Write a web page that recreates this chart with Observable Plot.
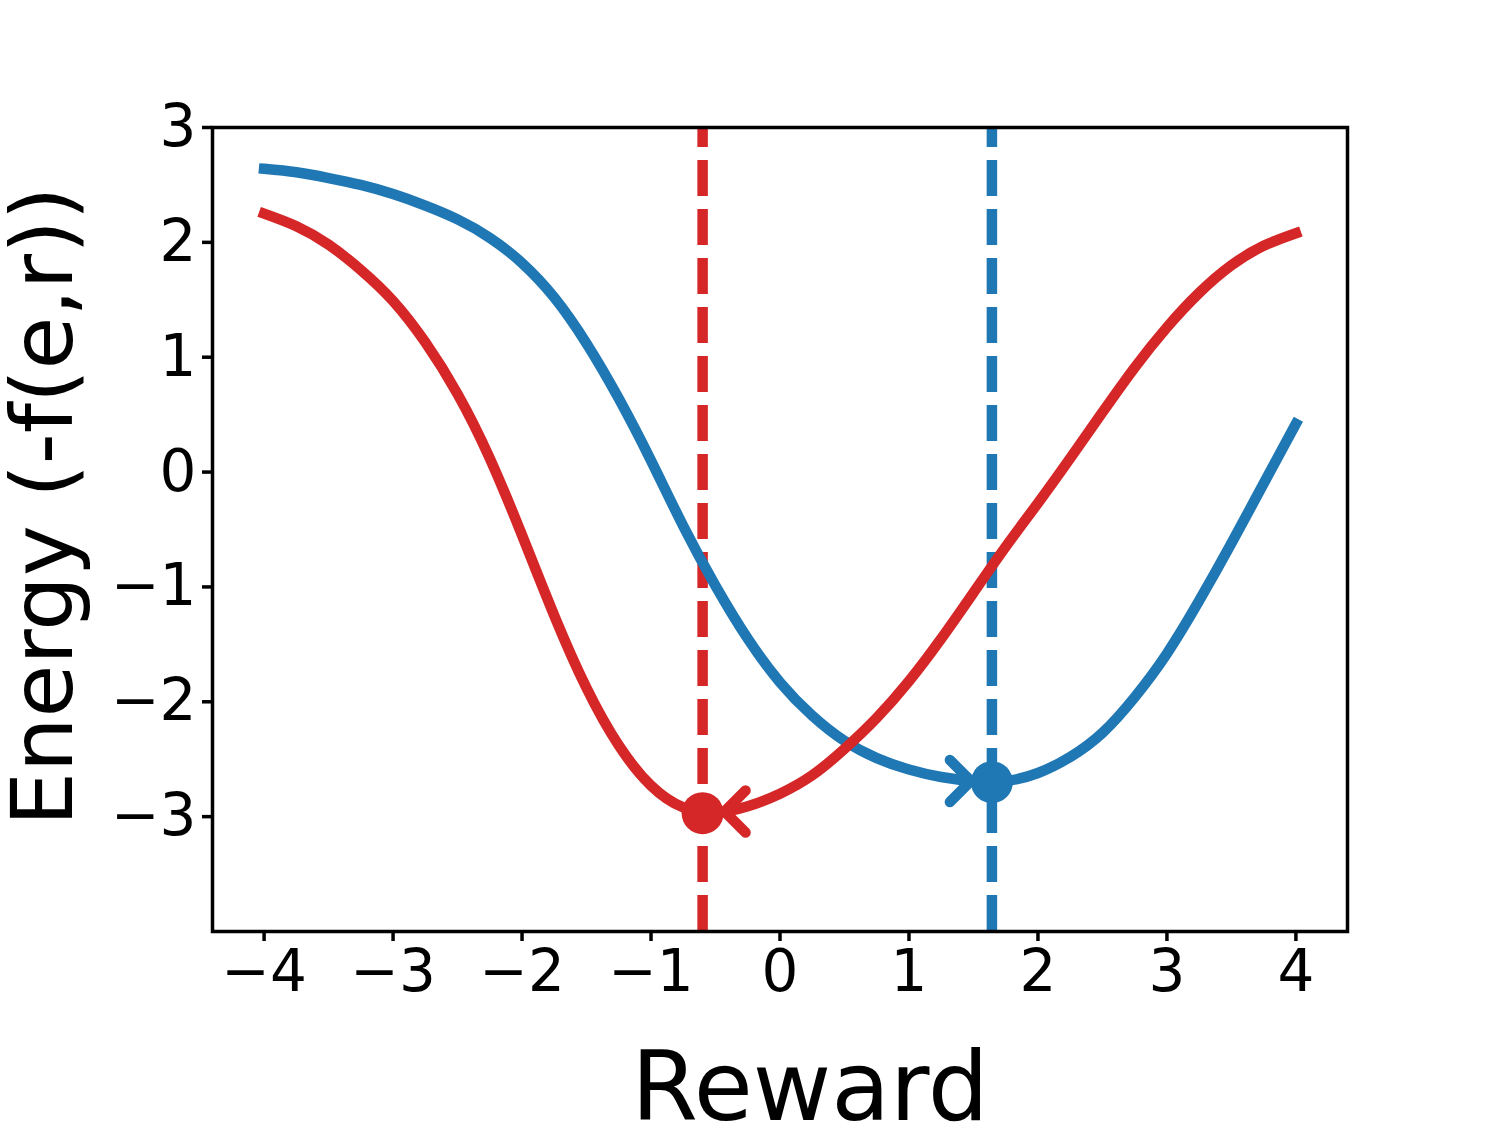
<!DOCTYPE html>
<html>
<head>
<meta charset="utf-8">
<script src="https://cdn.jsdelivr.net/npm/d3@7"></script>
<script src="https://cdn.jsdelivr.net/npm/@observablehq/plot@0.6"></script>
<style>
  html, body { margin: 0; padding: 0; background: white; }
  #chart svg { display: block; }
</style>
</head>
<body>
<div id="chart"></div>
<script>
// ---- data ----
const reward = [-4, -3.75, -3.5, -3.25, -3, -2.75, -2.5, -2.25, -2, -1.75, -1.5, -1.25, -1, -0.75, -0.5, -0.25,
  0, 0.25, 0.5, 0.75, 1, 1.25, 1.5, 1.75, 2, 2.25, 2.5, 2.75, 3, 3.25, 3.5, 3.75, 4];
const energyBlue = [2.64, 2.61, 2.56, 2.50, 2.42, 2.32, 2.20, 2.04, 1.82, 1.52, 1.12, 0.64, 0.10, -0.47, -0.99, -1.45,
  -1.83, -2.12, -2.34, -2.49, -2.59, -2.655, -2.69, -2.69, -2.62, -2.48, -2.27, -1.96, -1.58, -1.12, -0.62, -0.10, 0.42];
const energyRed = [2.25, 2.14, 1.98, 1.76, 1.49, 1.13, 0.68, 0.12, -0.55, -1.25, -1.88, -2.38, -2.73, -2.92, -2.965, -2.91,
  -2.80, -2.64, -2.41, -2.14, -1.82, -1.45, -1.05, -0.65, -0.27, 0.12, 0.52, 0.91, 1.26, 1.56, 1.80, 1.97, 2.08];
const seriesNames = ["blue", "red"];
const minReward = [1.643, -0.6];      // argmin positions (dashed lines + dots)
const minEnergy = [-2.70, -2.97];
const arrowTipReward = [1.48, -0.43]; // arrow heads pointing at the minima
const arrowTipEnergy = [-2.69, -2.955];
const xTicks = [-4, -3, -2, -1, 0, 1, 2, 3, 4];
const yTicks = [-3, -2, -1, 0, 1, 2, 3];
const xDomain = [-4.4, 4.4];
const yDomain = [-4, 3];
const xLabel = "Reward";
const yLabel = "Energy (-f(e,r))";

const colors = {blue: "#1f77b4", red: "#d62728"};
const lw = 10.5;

const curves = [];
reward.forEach((r, i) => {
  curves.push({series: "blue", r, e: energyBlue[i]});
  curves.push({series: "red", r, e: energyRed[i]});
});
const minima = seriesNames.map((s, i) => ({series: s, r: minReward[i], e: minEnergy[i]}));
const tips = seriesNames.map((s, i) => ({series: s, r: arrowTipReward[i], e: arrowTipEnergy[i], rot: s === "red" ? 0 : 180}));

// chevron "<" with its tip at the origin
const chevron = {
  draw(context, size) {
    const a = Math.sqrt(size / Math.PI);
    context.moveTo(a, -a);
    context.lineTo(0, 0);
    context.lineTo(a, a);
  }
};

const fmt = d => (d < 0 ? "\u2212" + (-d) : String(d));

const chart = Plot.plot({
  width: 1499,
  height: 1131,
  marginLeft: 212,
  marginRight: 152,
  marginTop: 127,
  marginBottom: 200,
  style: {fontFamily: "DejaVu Sans", color: "black", background: "white"},
  x: {domain: xDomain},
  y: {domain: yDomain},
  marks: [
    Plot.ruleX(minima, {x: "r", y1: yDomain[0], y2: yDomain[1], stroke: d => colors[d.series],
      strokeWidth: lw, strokeDasharray: "36,13"}),
    Plot.line(curves, {x: "r", y: "e", z: "series", stroke: d => colors[d.series], strokeWidth: lw,
      curve: "natural", strokeLinecap: "square"}),
    Plot.dot(minima, {x: "r", y: "e", r: 21, fill: d => colors[d.series], stroke: "none"}),
    Plot.dot(tips, {x: "r", y: "e", r: 21, symbol: chevron, rotate: "rot", fill: "none",
      stroke: d => colors[d.series], strokeWidth: lw, strokeLinecap: "round", strokeLinejoin: "miter"}),
    Plot.frame({stroke: "black", strokeWidth: 3.5}),
    Plot.axisX({ticks: xTicks, tickFormat: fmt, tickSize: 10, tickPadding: 8, fontSize: 58,
      strokeWidth: 3.5, label: null}),
    Plot.axisY({ticks: yTicks, tickFormat: fmt, tickSize: 10, tickPadding: 6, fontSize: 58,
      strokeWidth: 3.5, label: null}),
    Plot.text([xLabel], {text: d => d, frameAnchor: "bottom", dx: 30, dy: 158, fontSize: 96,
      lineAnchor: "middle", textAnchor: "middle", fill: "black"}),
    Plot.text([yLabel], {text: d => d, frameAnchor: "left", rotate: -90, dx: -168, dy: -23, fontSize: 86,
      lineAnchor: "middle", textAnchor: "middle", fill: "black"})
  ]
});
document.getElementById("chart").appendChild(chart);
</script>
</body>
</html>
